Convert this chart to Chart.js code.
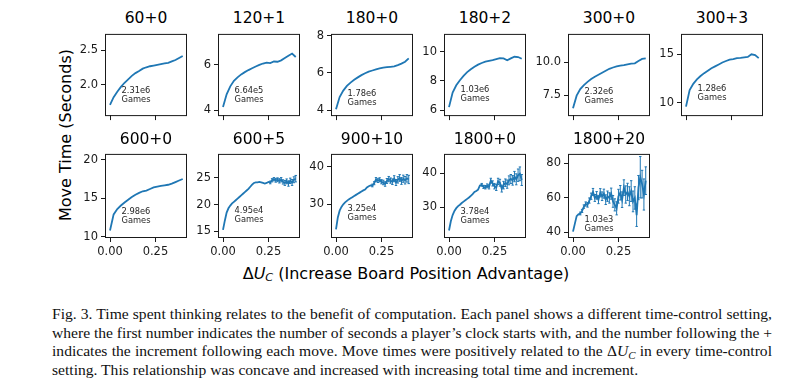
<!DOCTYPE html>
<html>
<head>
<meta charset="utf-8">
<script src="https://cdn.jsdelivr.net/npm/chart.js@4.4.0/dist/chart.umd.min.js"></script>
<style>
body { margin:0; background:#fff; width:800px; height:392px; overflow:hidden; position:relative; font-family:'DejaVu Sans', sans-serif; color:#000; }
canvas { position:absolute; }
.title { position:absolute; font-size:15.5px; transform:translate(-50%,-50%); white-space:nowrap; }
.ylab { position:absolute; font-size:16px; white-space:nowrap; transform:translate(-50%,-50%) rotate(-90deg); }
.xlab { position:absolute; font-size:16px; white-space:nowrap; transform:translate(-50%,-50%); }
.xlab sub, .cap sub { font-size:70%; vertical-align:-0.25em; line-height:0; }
.cap { position:absolute; left:52px; font-family:'Liberation Serif','Times New Roman',serif; font-size:15.6px; line-height:18.8px; white-space:nowrap; display:inline-block; color:#111; }
</style>
</head>
<body>
<div class="ylab" style="left:65px;top:135px">Move Time (Seconds)</div>
<div class="xlab" style="left:406px;top:273px">&Delta;<i>U</i><sub><i>C</i></sub> (Increase Board Position Advantage)</div>
<span class="cap just" style="top:304.5px">Fig. 3. Time spent thinking relates to the benefit of computation. Each panel shows a different time-control setting,</span>
<span class="cap just" style="top:323.5px">where the first number indicates the number of seconds a player’s clock starts with, and the number following the +</span>
<span class="cap just" style="top:342px">indicates the increment following each move. Move times were positively related to the &Delta;<i>U</i><sub><i>C</i></sub> in every time-control</span>
<span class="cap" style="top:361px">setting. This relationship was concave and increased with increasing total time and increment.</span>
<script>
'use strict'

// panel names and number of games
let titles = ['60+0', '120+1', '180+0', '180+2', '300+0', '300+3',
    '600+0', '600+5', '900+10', '1800+0', '1800+20'];
let games = ['2.31e6', '6.64e5', '1.78e6', '1.03e6', '2.32e6', '1.28e6',
    '2.98e6', '4.95e4', '3.25e4', '3.78e4', '1.03e3'];

// delta U_C bins
let dU21 = [0.00, 0.02, 0.04, 0.06, 0.08, 0.10, 0.12, 0.14, 0.16, 0.18, 0.20,
    0.22, 0.24, 0.26, 0.28, 0.30, 0.32, 0.34, 0.36, 0.38, 0.40];
let dU41 = [0.00, 0.01, 0.02, 0.03, 0.04, 0.05, 0.06, 0.07, 0.08, 0.09, 0.10,
    0.11, 0.12, 0.13, 0.14, 0.15, 0.16, 0.17, 0.18, 0.19, 0.20,
    0.21, 0.22, 0.23, 0.24, 0.25, 0.26, 0.27, 0.28, 0.29, 0.30,
    0.31, 0.32, 0.33, 0.34, 0.35, 0.36, 0.37, 0.38, 0.39, 0.40];

// move times (seconds)
let t60_0 = [1.71, 1.82, 1.90, 1.97, 2.03, 2.08, 2.13, 2.17, 2.20, 2.235, 2.255,
    2.27, 2.28, 2.29, 2.30, 2.31, 2.32, 2.34, 2.36, 2.39, 2.42];
let t120_1 = [4.14, 4.70, 5.05, 5.30, 5.45, 5.58, 5.68, 5.77, 5.85, 5.93, 6.00,
    6.06, 6.10, 6.08, 6.15, 6.14, 6.20, 6.30, 6.40, 6.50, 6.35];
let t180_0 = [4.05, 4.70, 5.05, 5.30, 5.48, 5.63, 5.76, 5.88, 5.98, 6.07, 6.13,
    6.19, 6.24, 6.28, 6.31, 6.33, 6.35, 6.42, 6.50, 6.60, 6.78];
let t180_2 = [6.20, 7.20, 7.70, 8.05, 8.35, 8.60, 8.80, 8.97, 9.12, 9.23, 9.32,
    9.38, 9.43, 9.50, 9.56, 9.55, 9.42, 9.55, 9.66, 9.64, 9.52];
let t300_0 = [6.50, 7.45, 7.95, 8.25, 8.50, 8.72, 8.90, 9.05, 9.20, 9.35, 9.50,
    9.60, 9.68, 9.74, 9.78, 9.84, 9.90, 9.92, 10.10, 10.25, 10.30];
let t300_3 = [9.60, 11.30, 11.95, 12.40, 12.75, 13.05, 13.30, 13.55, 13.75, 13.95, 14.15,
    14.30, 14.45, 14.50, 14.60, 14.62, 14.68, 14.72, 15.00, 14.92, 14.60];
let t600_0 = [10.80, 12.90, 13.60, 14.05, 14.45, 14.80, 15.15, 15.45, 15.70, 15.90, 16.00,
    16.20, 16.40, 16.50, 16.60, 16.68, 16.75, 16.90, 17.10, 17.30, 17.50];
let t600_5 = [15.3, 17.0, 18.5, 19.3, 19.8, 20.2, 20.5, 20.8, 21.1, 21.4, 21.7,
    22.0, 22.3, 22.6, 22.9, 23.3, 23.7, 24.0, 24.1, 24.1, 24.2,
    24.1, 24.0, 23.9, 24.0, 24.2, 24.1, 24.5, 24.7, 24.5, 24.6,
    24.4, 24.6, 24.2, 24.0, 24.3, 23.9, 24.4, 24.1, 24.6, 24.8];
let t900_10 = [23.3, 26.5, 28.3, 29.3, 30.0, 30.5, 30.9, 31.3, 31.6, 31.9, 32.2,
    32.5, 32.8, 33.1, 33.4, 33.7, 33.9, 34.5, 34.8, 35.0, 35.0,
    35.6, 36.6, 36.3, 36.5, 36.0, 35.8, 35.4, 36.2, 36.7, 36.3,
    36.0, 36.8, 35.8, 36.5, 37.0, 36.2, 36.8, 36.4, 36.9, 36.6];
let t1800_0 = [23.3, 26.0, 27.8, 29.0, 29.8, 30.4, 30.8, 31.3, 31.7, 32.1, 32.5,
    32.9, 33.4, 33.9, 34.5, 34.8, 35.2, 36.4, 36.6, 36.0, 35.9,
    36.3, 36.0, 37.8, 37.0, 36.2, 35.8, 37.6, 37.2, 35.5, 36.5,
    37.2, 36.8, 37.9, 38.3, 37.9, 39.0, 38.2, 39.4, 39.8, 38.0];
let t1800_20 = [40.5, 45.0, 49.5, 50.5, 51.0, 52.5, 55.0, 56.5, 56.0, 58.5, 61.0,
    63.5, 60.0, 61.5, 59.0, 63.0, 61.0, 62.5, 59.0, 61.0, 60.0,
    62.5, 58.0, 56.0, 54.0, 61.0, 63.0, 59.0, 66.0, 62.0, 63.5,
    61.0, 64.0, 58.0, 60.0, 50.0, 66.0, 72.0, 68.0, 62.0, 70.0];

// standard errors
let e600_5 = [0.03, 0.03, 0.03, 0.03, 0.04, 0.04, 0.04, 0.04, 0.05, 0.05, 0.05,
    0.06, 0.06, 0.07, 0.07, 0.08, 0.08, 0.09, 0.1, 0.1, 0.12,
    0.14, 0.15, 0.17, 0.2, 0.22, 0.25, 0.3, 0.3, 0.35, 0.35,
    0.4, 0.4, 0.4, 0.45, 0.45, 0.5, 0.5, 0.55, 0.55, 0.6];
let e900_10 = [0.05, 0.05, 0.05, 0.05, 0.05, 0.06, 0.06, 0.07, 0.07, 0.08, 0.08,
    0.09, 0.1, 0.1, 0.12, 0.14, 0.15, 0.2, 0.25, 0.3, 0.35,
    0.4, 0.5, 0.5, 0.55, 0.55, 0.6, 0.6, 0.65, 0.7, 0.7,
    0.75, 0.8, 0.8, 0.85, 0.9, 0.9, 0.95, 1.0, 1.0, 1.1];
let e1800_0 = [0.05, 0.05, 0.05, 0.06, 0.06, 0.07, 0.07, 0.08, 0.08, 0.1, 0.1,
    0.12, 0.14, 0.16, 0.2, 0.25, 0.3, 0.35, 0.4, 0.45, 0.5,
    0.55, 0.6, 0.7, 0.75, 0.8, 0.85, 0.9, 1.0, 1.0, 1.1,
    1.1, 1.2, 1.3, 1.3, 1.4, 1.5, 1.6, 1.8, 2.0, 1.6];
let e1800_20 = [0.4, 0.5, 0.6, 0.7, 0.8, 0.9, 1.0, 1.2, 1.3, 1.5, 1.8,
    2.0, 2.0, 2.2, 2.3, 2.4, 2.5, 2.6, 2.8, 3.0, 3.0,
    3.2, 3.4, 3.5, 3.8, 4.0, 4.2, 4.5, 4.5, 5.0, 5.0,
    5.5, 6.0, 6.0, 6.5, 6.5, 7.0, 12.0, 8.0, 9.0, 8.0];

let xs = [dU21, dU21, dU21, dU21, dU21, dU21, dU21, dU41, dU41, dU41, dU41];
let ys = [t60_0, t120_1, t180_0, t180_2, t300_0, t300_3, t600_0, t600_5, t900_10, t1800_0, t1800_20];
let errs = [null, null, null, null, null, null, null, e600_5, e900_10, e1800_0, e1800_20];

// axes
let yRange = [[1.56, 2.74], [3.78, 7.37], [3.73, 8.1], [5.65, 11.23], [5.97, 12.16], [8.72, 17.1],
    [9.96, 20.76], [13.97, 29.4], [21.3, 43.4], [21.4, 45.6], [37.4, 85.5]];
let yTicks = [[2.0, 2.5], [4, 6], [4, 6, 8], [6, 8, 10], [7.5, 10.0], [10, 15],
    [10, 15, 20], [15, 20, 25], [30, 40], [30, 40], [40, 60, 80]];
let yTickLabels = [['2.0', '2.5'], ['4', '6'], ['4', '6', '8'], ['6', '8', '10'], ['7.5', '10.0'], ['10', '15'],
    ['10', '15', '20'], ['15', '20', '25'], ['30', '40'], ['30', '40'], ['40', '60', '80']];
let xRange = [-0.022, 0.418];
let xTicks = [0, 0.25];
let xTickLabels = ['0.00', '0.25'];

// layout
let boxLeft = [106, 219, 332, 445, 569, 682];
let rowTop = [32, 152];
let boxW = 80, boxH = 85;
let padL = 45, padT = 8, padR = 6;
let noteTop = [57, 57, 60, 56, 58, 55, 58, 57, 55, 58, 66];
let blue = '#1f77b4';
let ink = '#1a1a1a';

let framePlugin = {
    id: 'frame',
    afterDraw(chart) {
        let a = chart.chartArea, ctx = chart.ctx;
        ctx.save();
        ctx.strokeStyle = ink;
        ctx.lineWidth = 1;
        ctx.strokeRect(a.left - 0.5, a.top + 0.5, a.right - a.left + 1, a.bottom - a.top);
        ctx.restore();
    }
};

let errPlugin = {
    id: 'errbars',
    beforeDatasetsDraw(chart, args, opts) {
        if (!opts.err) return;
        let ctx = chart.ctx, sx = chart.scales.x, sy = chart.scales.y;
        let d = chart.data.datasets[0].data;
        ctx.save();
        ctx.strokeStyle = blue;
        ctx.lineWidth = 1;
        ctx.beginPath();
        for (let i = 0; i < d.length; i++) {
            let px = sx.getPixelForValue(d[i].x);
            let y1 = sy.getPixelForValue(d[i].y - opts.err[i]);
            let y2 = sy.getPixelForValue(d[i].y + opts.err[i]);
            if (y1 - y2 < 2.5) continue;
            ctx.moveTo(px, y1); ctx.lineTo(px, y2);
            ctx.moveTo(px - 1.2, y1); ctx.lineTo(px + 1.2, y1);
            ctx.moveTo(px - 1.2, y2); ctx.lineTo(px + 1.2, y2);
        }
        ctx.stroke();
        ctx.restore();
    }
};

let notePlugin = {
    id: 'note',
    afterDraw(chart, args, opts) {
        let a = chart.chartArea, ctx = chart.ctx;
        ctx.save();
        ctx.fillStyle = '#262626';
        ctx.font = '8.3px "DejaVu Sans"';
        ctx.textBaseline = 'middle';
        ctx.textAlign = 'left';
        ctx.fillText(opts.games, a.left + 15.5, a.top + opts.top);
        ctx.fillText('Games', a.left + 15.5, a.top + opts.top + 9);
        ctx.restore();
    }
};

function makePanel(i) {
    let row = i < 6 ? 0 : 1;
    let col = i < 6 ? i : i - 6;
    let xh = row === 1 ? 26 : 8;
    let W = padL + boxW + padR, H = padT + boxH + xh;

    let t = document.createElement('div');
    t.className = 'title';
    t.textContent = titles[i];
    t.style.left = (boxLeft[col] + boxW / 2) + 'px';
    t.style.top = (row === 0 ? 17.5 : 138.5) + 'px';
    document.body.appendChild(t);

    let cv = document.createElement('canvas');
    cv.width = W; cv.height = H;
    cv.style.left = (boxLeft[col] - padL) + 'px';
    cv.style.top = (rowTop[row] - padT) + 'px';
    cv.style.width = W + 'px';
    cv.style.height = H + 'px';
    document.body.appendChild(cv);

    let pts = xs[i].map((x, k) => ({ x: x, y: ys[i][k] }));
    let tickFont = { family: 'DejaVu Sans', size: 11.5 };

    new Chart(cv, {
        type: 'line',
        data: {
            datasets: [{
                data: pts,
                borderColor: blue,
                borderWidth: 1.8,
                pointRadius: 0,
                tension: 0,
                fill: false
            }]
        },
        options: {
            responsive: false,
            animation: false,
            devicePixelRatio: 1,
            layout: { padding: { top: padT, right: padR, left: 0, bottom: 0 } },
            plugins: {
                legend: { display: false },
                tooltip: { enabled: false },
                errbars: { err: errs[i] },
                note: { games: games[i], top: noteTop[i] }
            },
            scales: {
                x: {
                    type: 'linear',
                    min: xRange[0],
                    max: xRange[1],
                    afterFit: s => { s.height = xh; },
                    afterBuildTicks: s => { s.ticks = xTicks.map(v => ({ value: v })); },
                    ticks: {
                        display: row === 1,
                        autoSkip: false,
                        maxRotation: 0,
                        padding: 3,
                        color: ink,
                        font: tickFont,
                        callback: (v, k) => xTickLabels[k]
                    },
                    grid: { drawOnChartArea: false, drawTicks: true, tickLength: 5, color: ink },
                    border: { display: false }
                },
                y: {
                    type: 'linear',
                    min: yRange[i][0],
                    max: yRange[i][1],
                    afterFit: s => { s.width = padL; },
                    afterBuildTicks: s => { s.ticks = yTicks[i].map(v => ({ value: v })); },
                    ticks: {
                        autoSkip: false,
                        padding: 3,
                        color: ink,
                        font: tickFont,
                        callback: (v, k) => yTickLabels[i][k]
                    },
                    grid: { drawOnChartArea: false, drawTicks: true, tickLength: 5, color: ink },
                    border: { display: false }
                }
            }
        },
        plugins: [errPlugin, framePlugin, notePlugin]
    });
}

for (let i = 0; i < titles.length; i++) {
    makePanel(i);
}

// justify caption lines
document.querySelectorAll('.cap.just').forEach(el => {
    let w = el.getBoundingClientRect().width;
    let n = (el.textContent.match(/ /g) || []).length;
    el.style.wordSpacing = ((720 - w) / n) + 'px';
});
</script>
</body>
</html>
